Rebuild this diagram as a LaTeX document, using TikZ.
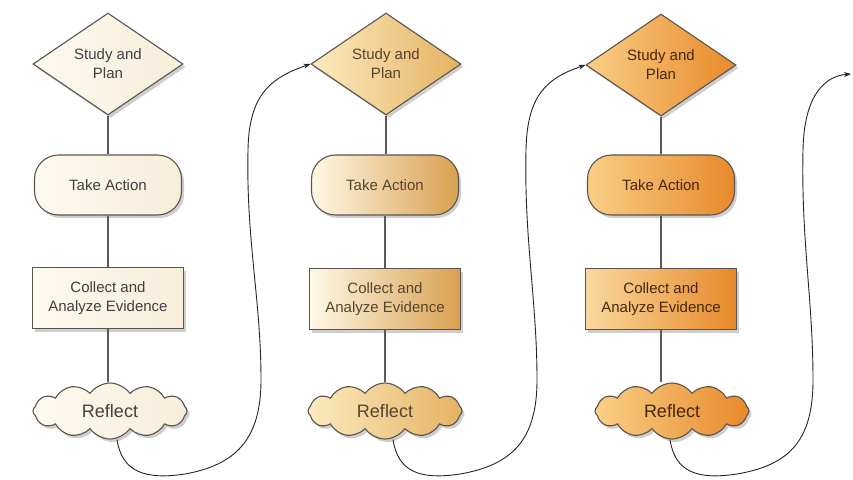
\documentclass[tikz,border=0pt]{standalone}
\usepackage{fontspec}
\setmainfont{Liberation Sans}
\usetikzlibrary{shapes.geometric,shapes.symbols,shadows,arrows.meta}
\definecolor{edgegray}{HTML}{5A5550}
\definecolor{linegray}{HTML}{5A5A5A}
\definecolor{creamL}{HTML}{FDF9EE}
\definecolor{creamR}{HTML}{F7EEDA}
\definecolor{tanL}{HTML}{FFF8E6}
\definecolor{tanR}{HTML}{D9A050}
\definecolor{goldL}{HTML}{FBEBC0}
\definecolor{goldR}{HTML}{E6B262}
\definecolor{orL}{HTML}{F9CF86}
\definecolor{orR}{HTML}{E8892A}
\definecolor{txtA}{HTML}{404040}
\definecolor{txtB}{HTML}{55452E}
\definecolor{txtC}{HTML}{46270C}
\begin{document}
\begin{tikzpicture}[x=1pt,y=-1pt,
  base/.style={draw=edgegray, line width=1.1pt, align=center, inner sep=0pt,
    font=\fontsize{15}{19}\selectfont,
    drop shadow={shadow xshift=2.5pt,shadow yshift=-3pt,opacity=0.38}},
  dia/.style={base, diamond, aspect=1.5, minimum width=150pt, minimum height=102pt},
  act/.style={base, rectangle, rounded corners=24pt, minimum width=147pt, minimum height=60pt},
  colbox/.style={base, rectangle, minimum width=151pt, minimum height=61pt},
  refl/.style={base, cloud, cloud puffs=12, cloud puff arc=110, cloud ignores aspect,
    minimum width=154pt, minimum height=56pt, font=\fontsize{18}{20}\selectfont},
  plainfill/.style={left color=creamL, right color=creamR, text=txtA},
  tanfill/.style={left color=tanL, right color=tanR, text=txtB},
  goldfill/.style={left color=goldL, right color=goldR, text=txtB},
  orfill/.style={left color=orL, right color=orR, text=txtC},
  orfillB/.style={left color=orL!80!white, right color=orR, text=txtC},
  link/.style={draw=linegray, line width=1.2pt},
  loopline/.style={draw=black!85, line width=0.9pt, -{Stealth[length=7pt,width=5pt]}}
]
\useasboundingbox (0,0) rectangle (853,479);
\fill[white] (0,0) rectangle (853,479);

% column 1
\node[dia, plainfill]    (d1) at (108,64)  {Study and\\Plan};
\node[act, plainfill]    (a1) at (108,185) {Take Action};
\node[colbox, plainfill] (c1) at (108,298) {Collect and\\Analyze Evidence};
\node[refl, plainfill]   (r1) at (110,411) {Reflect};

% column 2
\node[dia, goldfill]     (d2) at (386,64)  {Study and\\Plan};
\node[act, tanfill]      (a2) at (385,185) {Take Action};
\node[colbox, tanfill]   (c2) at (385,299) {Collect and\\Analyze Evidence};
\node[refl, goldfill]    (r2) at (385,411) {Reflect};

% column 3
\node[dia, orfill]       (d3) at (661,65)  {Study and\\Plan};
\node[act, orfill]       (a3) at (661,185) {Take Action};
\node[colbox, orfillB]   (c3) at (661,299) {Collect and\\Analyze Evidence};
\node[refl, orfill]      (r3) at (672,411) {Reflect};

\coordinate (e3) at (851,74);

\foreach \i in {1,2,3}{
  \draw[link] (d\i.south) -- (d\i.south |- a\i.north);
  \draw[link] (a\i.south) -- (a\i.south |- c\i.north);
  \draw[link] (c\i.south) -- (c\i.south |- r\i.north);
}

\draw[loopline] ([xshift=7pt]r1.south) .. controls (122,472) and (145,480) .. (185,474)
  .. controls (235,465) and (261,440) .. (261,380)
  .. controls (261,300) and (246,240) .. (248,150)
  .. controls (249,95) and (270,78) .. (d2.west);
\draw[loopline] ([xshift=8pt]r2.south) .. controls (398,472) and (420,480) .. (460,474)
  .. controls (512,465) and (537,440) .. (537,380)
  .. controls (537,300) and (524,240) .. (526,150)
  .. controls (527,95) and (547,78) .. (d3.west);
\draw[loopline] ([xshift=-2pt]r3.south) .. controls (675,472) and (697,480) .. (737,474)
  .. controls (790,465) and (813,440) .. (813,380)
  .. controls (813,300) and (801,240) .. (803,150)
  .. controls (804,95) and (825,76) .. (e3);
\end{tikzpicture}
\end{document}
